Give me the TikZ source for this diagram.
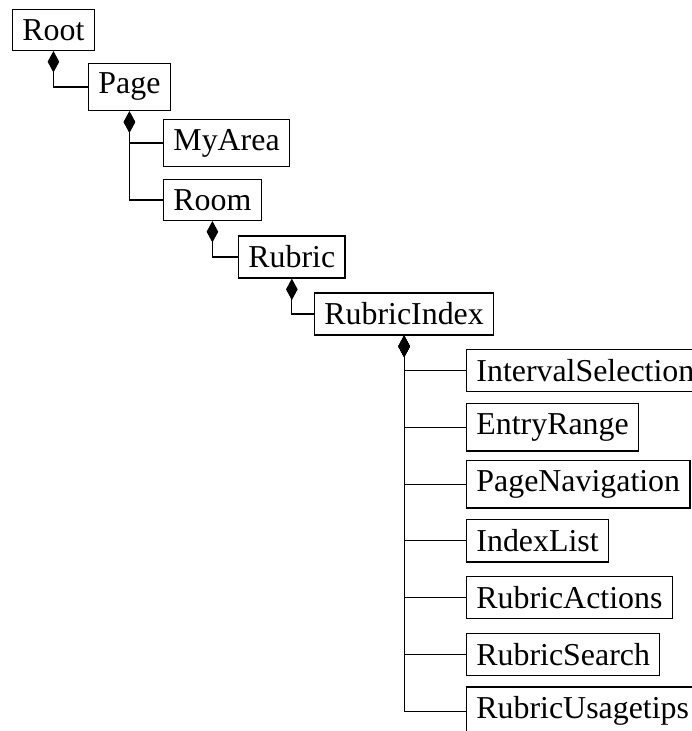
\documentclass[tikz,border=0pt]{standalone}
\usepackage{fontspec}
\setmainfont{Liberation Serif}
\usetikzlibrary{arrows.meta}
\begin{document}
\begin{tikzpicture}[x=0.345pt,y=-0.345pt,
  cls/.style={draw, anchor=west, inner sep=3.4pt, line width=0.4pt,
    font=\fontsize{11}{13}\selectfont},
  comp/.style={arrows={Diamond[length=7.4pt,width=4pt]-}, line width=0.4pt}]
  \useasboundingbox (0,0) rectangle (691,731);
  % containment hierarchy
  \node[cls] (root)   at (12,30)  {Root};
  \node[cls] (page)   at (88,87)  {Page};
  \node[cls] (myarea) at (163,143) {MyArea};
  \node[cls] (room)   at (163,200) {Room};
  \node[cls] (rubric) at (238,257) {Rubric};
  \node[cls] (rindex) at (314,314) {RubricIndex};
  % parts of the rubric index
  \node[cls] (interval) at (466,370.5) {IntervalSelection};
  \node[cls] (entry)    at (466,427.3) {EntryRange};
  \node[cls] (pagenav)  at (466,484.1) {PageNavigation};
  \node[cls] (ilist)    at (466,540.9) {IndexList};
  \node[cls] (ractions) at (466,597.7) {RubricActions};
  \node[cls] (rsearch)  at (466,654.5) {RubricSearch};
  \node[cls] (rtips)    at (466,711.3) {RubricUsagetips};
  % composition links
  \draw[comp] (root.south) |- (page.west);
  \draw[comp] (page.south) |- (myarea.west);
  \draw[comp] (page.south) |- (room.west);
  \draw[comp] (room.south) |- (rubric.west);
  \draw[comp] (rubric.south) |- (rindex.west);
  \foreach \c in {interval,entry,pagenav,ilist,ractions,rsearch,rtips}
    \draw[comp] (rindex.south) |- (\c.west);
\end{tikzpicture}
\end{document}
